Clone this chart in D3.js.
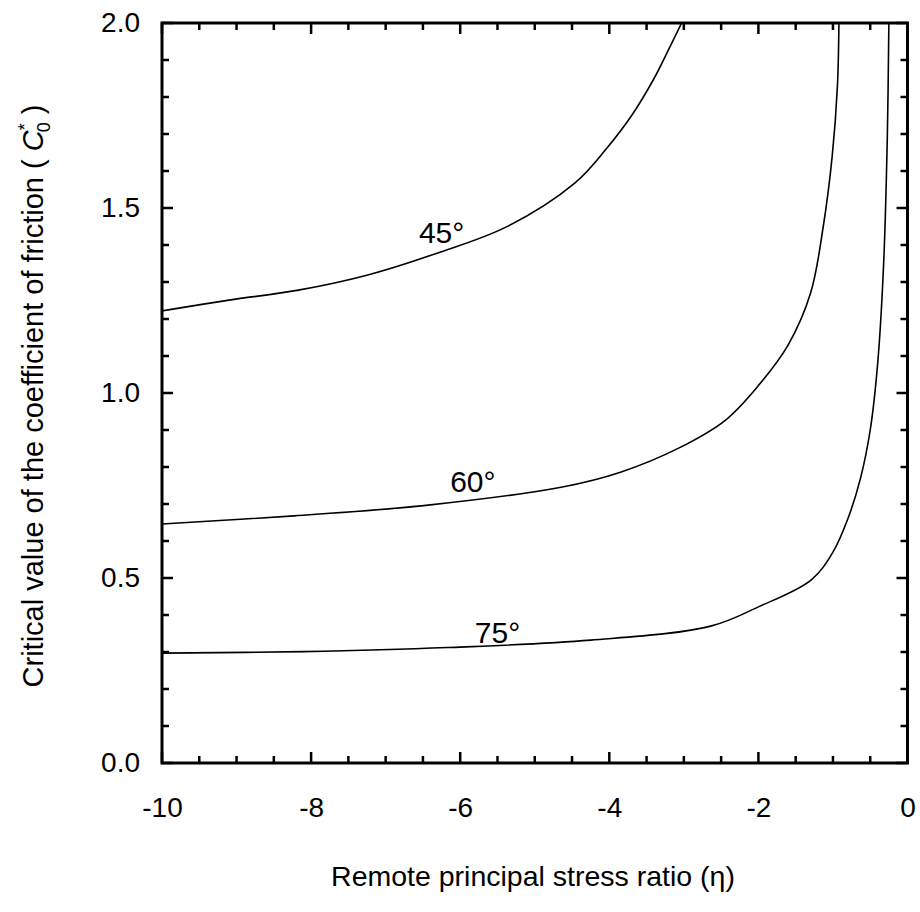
<!DOCTYPE html>
<html>
<head>
<meta charset="utf-8">
<script src="https://cdn.jsdelivr.net/npm/d3@7"></script>
<style>
body{margin:0;background:#fff;}
text{font-family:"Liberation Sans",Arial,Helvetica,sans-serif;fill:#000;}
</style>
</head>
<body>
<svg id="chart" width="920" height="912"></svg>
<script>
// ---- data ----
const eta45 = [-10, -9.1, -8.17, -7.24, -6.31, -5.38, -4.46, -4.04, -3.7, -3.4, -3.2, -3.03];
const c45   = [1.222, 1.251, 1.278, 1.319, 1.378, 1.449, 1.568, 1.66, 1.75, 1.85, 1.93, 2.0];
const eta60 = [-10, -8.23, -6.43, -4.63, -3.85, -3.07, -2.44, -2.0, -1.6, -1.3, -1.13, -1.01, -0.94, -0.92];
const c60   = [0.646, 0.668, 0.697, 0.746, 0.786, 0.851, 0.927, 1.02, 1.13, 1.27, 1.45, 1.64, 1.83, 2.0];
const eta75 = [-10, -8.1, -6.17, -4.25, -2.64, -2.0, -1.29, -1.0, -0.8, -0.63, -0.5, -0.4, -0.32, -0.27, -0.25];
const c75   = [0.297, 0.301, 0.312, 0.332, 0.370, 0.422, 0.495, 0.57, 0.66, 0.77, 0.9, 1.08, 1.35, 1.7, 2.0];
const curveLabels = ["45°", "60°", "75°"];
const labelEta = [-6.25, -5.83, -5.5];
const labelC = [1.405, 0.732, 0.324];
const xTickLabels = [-10, -8, -6, -4, -2, 0];
const yTickLabels = [0.0, 0.5, 1.0, 1.5, 2.0];

// ---- layout ----
const svg = d3.select("#chart");
const L = 162, R = 907.5, T = 23, B = 763;
const x = d3.scaleLinear().domain([-10, 0]).range([L, R]);
const y = d3.scaleLinear().domain([0, 2]).range([B, T]);
const FONT = '"Liberation Sans",Arial,sans-serif';

const g = svg.append("g");

// minor + major ticks on all four sides (inward)
const xMinor = d3.range(-10, 0.001, 0.5);
const yMinor = d3.range(0, 2.0001, 0.1);
function isMajorX(v){ return Math.abs(v/2 - Math.round(v/2)) < 1e-6; }
function isMajorY(v){ return Math.abs(v/0.5 - Math.round(v/0.5)) < 1e-6; }

const tickG = g.append("g").attr("stroke","#000").attr("stroke-width",2.5);
xMinor.forEach(v=>{
  const len = isMajorX(v) ? 11 : 7;
  tickG.append("line").attr("x1",x(v)).attr("x2",x(v)).attr("y1",B).attr("y2",B-len);
  tickG.append("line").attr("x1",x(v)).attr("x2",x(v)).attr("y1",T).attr("y2",T+len);
});
yMinor.forEach(v=>{
  const len = isMajorY(v) ? 11 : 7;
  tickG.append("line").attr("y1",y(v)).attr("y2",y(v)).attr("x1",L).attr("x2",L+len);
  tickG.append("line").attr("y1",y(v)).attr("y2",y(v)).attr("x1",R).attr("x2",R-len);
});

// tick labels via axes
const xAxis = d3.axisBottom(x).tickValues(xTickLabels).tickSize(0).tickPadding(0)
  .tickFormat(d=>String(d));
const xg = g.append("g").attr("transform",`translate(0,${B+34})`).call(xAxis);
xg.attr("font-size",28).attr("font-family",FONT);
xg.select(".domain").remove();
xg.selectAll("text").attr("dy","0.71em").attr("fill","#000");

const yAxis = d3.axisLeft(y).tickValues(yTickLabels).tickSize(0).tickPadding(0)
  .tickFormat(d3.format(".1f"));
const yg = g.append("g").attr("transform",`translate(${L-22},0)`).call(yAxis);
yg.attr("font-size",28).attr("font-family",FONT);
yg.select(".domain").remove();
yg.selectAll("text").attr("fill","#000");

// frame
g.append("rect").attr("x",L).attr("y",T).attr("width",R-L).attr("height",B-T)
  .attr("fill","none").attr("stroke","#000").attr("stroke-width",3);

// curves
svg.append("clipPath").attr("id","clip").append("rect")
  .attr("x",L).attr("y",T).attr("width",R-L).attr("height",B-T);
const line = d3.line().x(d=>x(d[0])).y(d=>y(d[1])).curve(d3.curveCatmullRom.alpha(0.5));
const series = [d3.zip(eta45,c45), d3.zip(eta60,c60), d3.zip(eta75,c75)];
g.append("g").attr("clip-path","url(#clip)").selectAll("path").data(series).join("path")
  .attr("d",line).attr("fill","none").attr("stroke","#000").attr("stroke-width",1.6);

// curve labels
g.selectAll("text.cl").data(curveLabels).join("text").attr("class","cl")
  .attr("x",(d,i)=>x(labelEta[i])).attr("y",(d,i)=>y(labelC[i]))
  .attr("text-anchor","middle").attr("font-size",30).text(d=>d);

// axis titles
svg.append("text").attr("x",533).attr("y",886).attr("text-anchor","middle")
  .attr("font-size",28.5).text("Remote principal stress ratio (η)");

const yt = svg.append("text").attr("transform",`translate(43,396) rotate(-90)`)
  .attr("text-anchor","middle").attr("font-size",29);
yt.append("tspan").text("Critical value of the coefficient of friction ( ");
yt.append("tspan").attr("font-style","italic").text("C");
yt.append("tspan").attr("font-size",18).attr("dy",-12).text("*");
yt.append("tspan").attr("font-size",18).attr("dx",-9).attr("dy",19).text("0");
yt.append("tspan").attr("dy",-7).text(" )");
</script>
</body>
</html>
